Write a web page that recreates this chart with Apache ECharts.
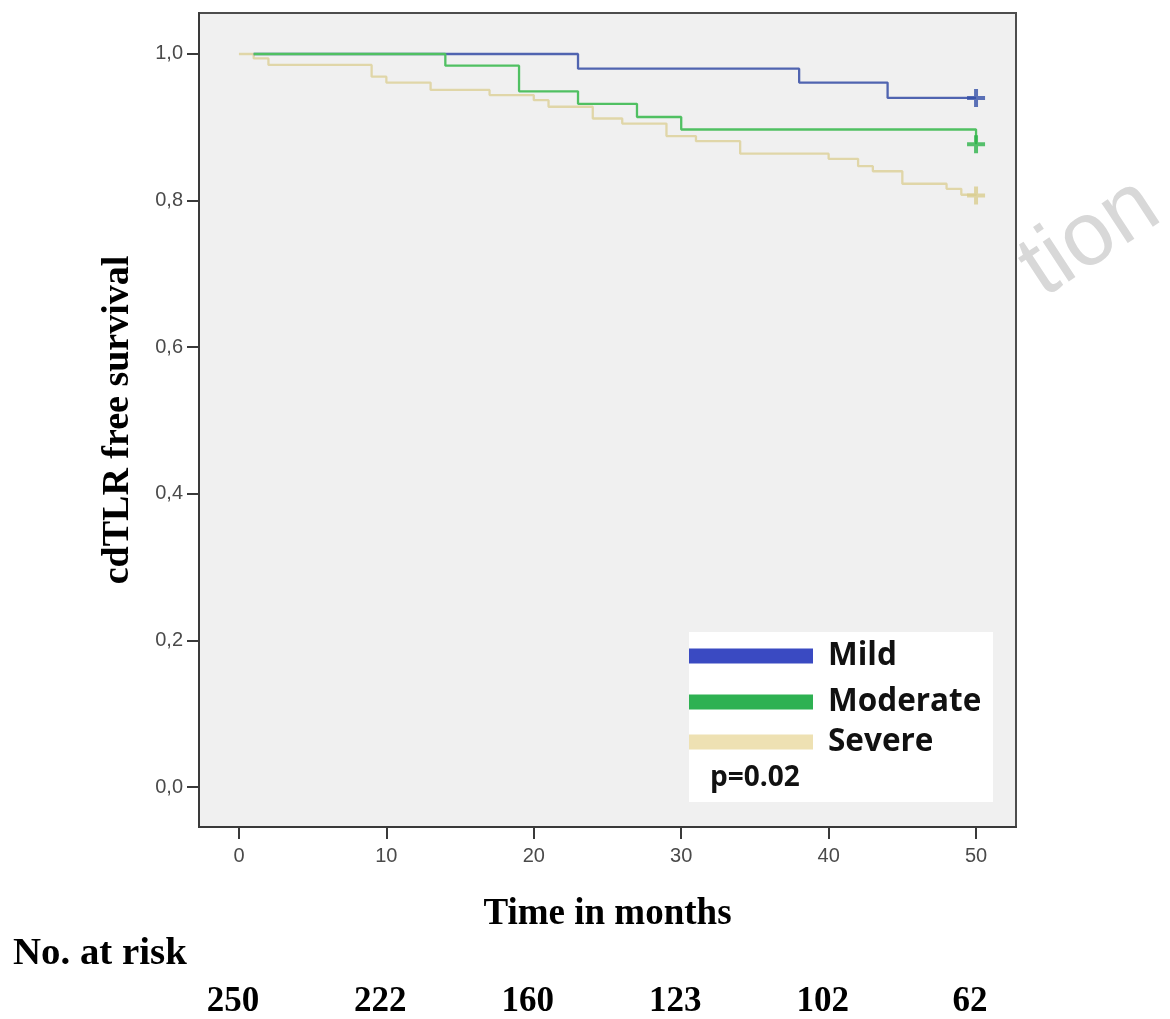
<!DOCTYPE html>
<html>
<head>
<meta charset="utf-8">
<script src="https://cdn.jsdelivr.net/npm/echarts@6/dist/echarts.min.js"></script>
<style>
html,body{margin:0;padding:0;background:#fff;}
#c{width:1170px;height:1019px;}
</style>
</head>
<body>
<div id="c"></div>
<script>
// ---- data ----
const seriesNames = ['Mild', 'Moderate', 'Severe'];
const mildTime = [1, 23, 38, 44, 50];
const mildSurv = [1.0, 0.980, 0.961, 0.940, 0.940];
const moderateTime = [1, 14, 19, 23, 27, 30, 50, 50];
const moderateSurv = [1.0, 0.984, 0.949, 0.932, 0.914, 0.897, 0.897, 0.877];
const severeTime = [0, 1, 2, 9, 10, 13, 17, 20, 21, 24, 26, 29, 31, 34, 40, 42, 43, 45, 48, 49, 50];
const severeSurv = [1.0, 0.994, 0.985, 0.969, 0.961, 0.951, 0.944, 0.937, 0.928, 0.912, 0.905, 0.888, 0.881, 0.864, 0.857, 0.847, 0.840, 0.823, 0.816, 0.808, 0.807];
const censorTime = [50, 50, 50];
const censorSurv = [0.940, 0.877, 0.807];
const xTicks = [0, 10, 20, 30, 40, 50];
const yTicks = [0, 0.2, 0.4, 0.6, 0.8, 1.0];
const atRisk = [250, 222, 160, 123, 102, 62];
const pValueText = 'p=0.02';

// ---- styling ----
const lineColors = ['#5064b0', '#50c062', '#e0d6a8'];
const legendColors = ['#3a4ac2', '#2eb152', '#eee1b3'];
const censorColors = ['#3450a8', '#2db34a', '#d9cd8e'];
const serif = '"Liberation Serif", "Times New Roman", serif';
const sans = '"Liberation Sans", Arial, sans-serif';

const zip = (t, s) => t.map((v, i) => [v, s[i]]);
const plusPath = 'path://M0,3.9h10v2.2h-10z M3.9,0h2.2v10h-2.2z';

const xMin = -2.71, xMax = 52.71, yMin = -0.0545, yMax = 1.0559;

const chart = echarts.init(document.getElementById('c'), null, {renderer: 'canvas'});

const lineData = [zip(mildTime, mildSurv), zip(moderateTime, moderateSurv), zip(severeTime, severeSurv)];
const drawOrder = [2, 0, 1];
const series = [];
drawOrder.forEach(i => {
  series.push({
    name: seriesNames[i], type: 'line', step: 'end', data: lineData[i],
    showSymbol: false, symbol: 'none', animation: false,
    lineStyle: {color: lineColors[i], width: 2.3},
    itemStyle: {color: legendColors[i]},
    z: 2 + drawOrder.indexOf(i)
  });
});
[0, 1, 2].forEach(i => {
  series.push({
    name: seriesNames[i] + ' censored', type: 'scatter',
    data: [[censorTime[i], censorSurv[i]]],
    symbol: plusPath, symbolSize: 18, animation: false,
    itemStyle: {color: censorColors[i]}, z: 6
  });
});

const legendTops = [656, 702, 742];
const legends = [0, 1, 2].map(i => ({
  data: [{name: seriesNames[i], itemStyle: {color: legendColors[i]}}],
  left: 689, top: legendTops[i] - 16, padding: 0,
  icon: 'rect', itemWidth: 124, itemHeight: 15, selectedMode: false,
  textStyle: {fontFamily: '"Open Sans", sans-serif', fontWeight: 'bold', fontSize: 31.5, color: '#111', lineHeight: 32, padding: [0, 0, 0, 10]},
  z: 10
}));

chart.setOption({
  animation: false,
  backgroundColor: '#ffffff',
  grid: {left: 199, top: 13, width: 817, height: 815, show: true, backgroundColor: '#f0f0f0', borderColor: '#4d4d4d', borderWidth: 2},
  legend: legends,
  xAxis: [{
    type: 'value', min: xMin, max: xMax,
    name: 'Time in months', nameLocation: 'middle', nameGap: 69,
    nameTextStyle: {fontFamily: serif, fontWeight: 'bold', fontSize: 37, color: '#000'},
    axisLine: {show: true, onZero: false, lineStyle: {color: '#3a3a3a', width: 2}},
    axisTick: {show: true, length: 12, customValues: xTicks, lineStyle: {color: '#3a3a3a', width: 2}},
    axisLabel: {customValues: xTicks, margin: 19, fontFamily: sans, fontSize: 20, color: '#4a4a4a'},
    splitLine: {show: false}
  }, {
    type: 'value', min: xMin, max: xMax, position: 'bottom',
    axisLine: {show: false}, axisTick: {show: false}, splitLine: {show: false},
    axisLabel: {customValues: xTicks, margin: 157, fontFamily: serif, fontWeight: 'bold', fontSize: 35, color: '#000',
      padding: [0, 12, 0, 0],
      formatter: v => String(atRisk[xTicks.indexOf(v)])}
  }],
  yAxis: {
    type: 'value', min: yMin, max: yMax,
    name: 'cdTLR free survival', nameLocation: 'middle', nameGap: 62,
    nameTextStyle: {fontFamily: serif, fontWeight: 'bold', fontSize: 38, color: '#000'},
    axisLine: {show: true, onZero: false, lineStyle: {color: '#3a3a3a', width: 2}},
    axisTick: {show: true, length: 12, customValues: yTicks, lineStyle: {color: '#3a3a3a', width: 2}},
    axisLabel: {customValues: yTicks, margin: 16, fontFamily: sans, fontSize: 20, color: '#4a4a4a',
      formatter: v => v.toFixed(1).replace('.', ',')},
    splitLine: {show: false}
  },
  graphic: [
    {type: 'text', x: 1090, y: 238, rotation: 0.58, z: -1,
      style: {text: 'tion', font: '90px "Liberation Sans", Arial, sans-serif', fill: '#d8d8d8', align: 'center', verticalAlign: 'middle'}},
    {type: 'rect', shape: {x: 689, y: 632, width: 304, height: 170}, style: {fill: '#ffffff'}, z: 3},
    {type: 'text', x: 710, y: 778, z: 11,
      style: {text: pValueText, font: 'bold 28px "Open Sans", sans-serif', fill: '#111', align: 'left', verticalAlign: 'middle'}},
    {type: 'text', x: 13, y: 954, scaleX: 1.05, z: 11,
      style: {text: 'No. at risk', font: 'bold 37px ' + serif, fill: '#000', align: 'left', verticalAlign: 'middle'}}
  ],
  series: series
});
</script>
</body>
</html>
